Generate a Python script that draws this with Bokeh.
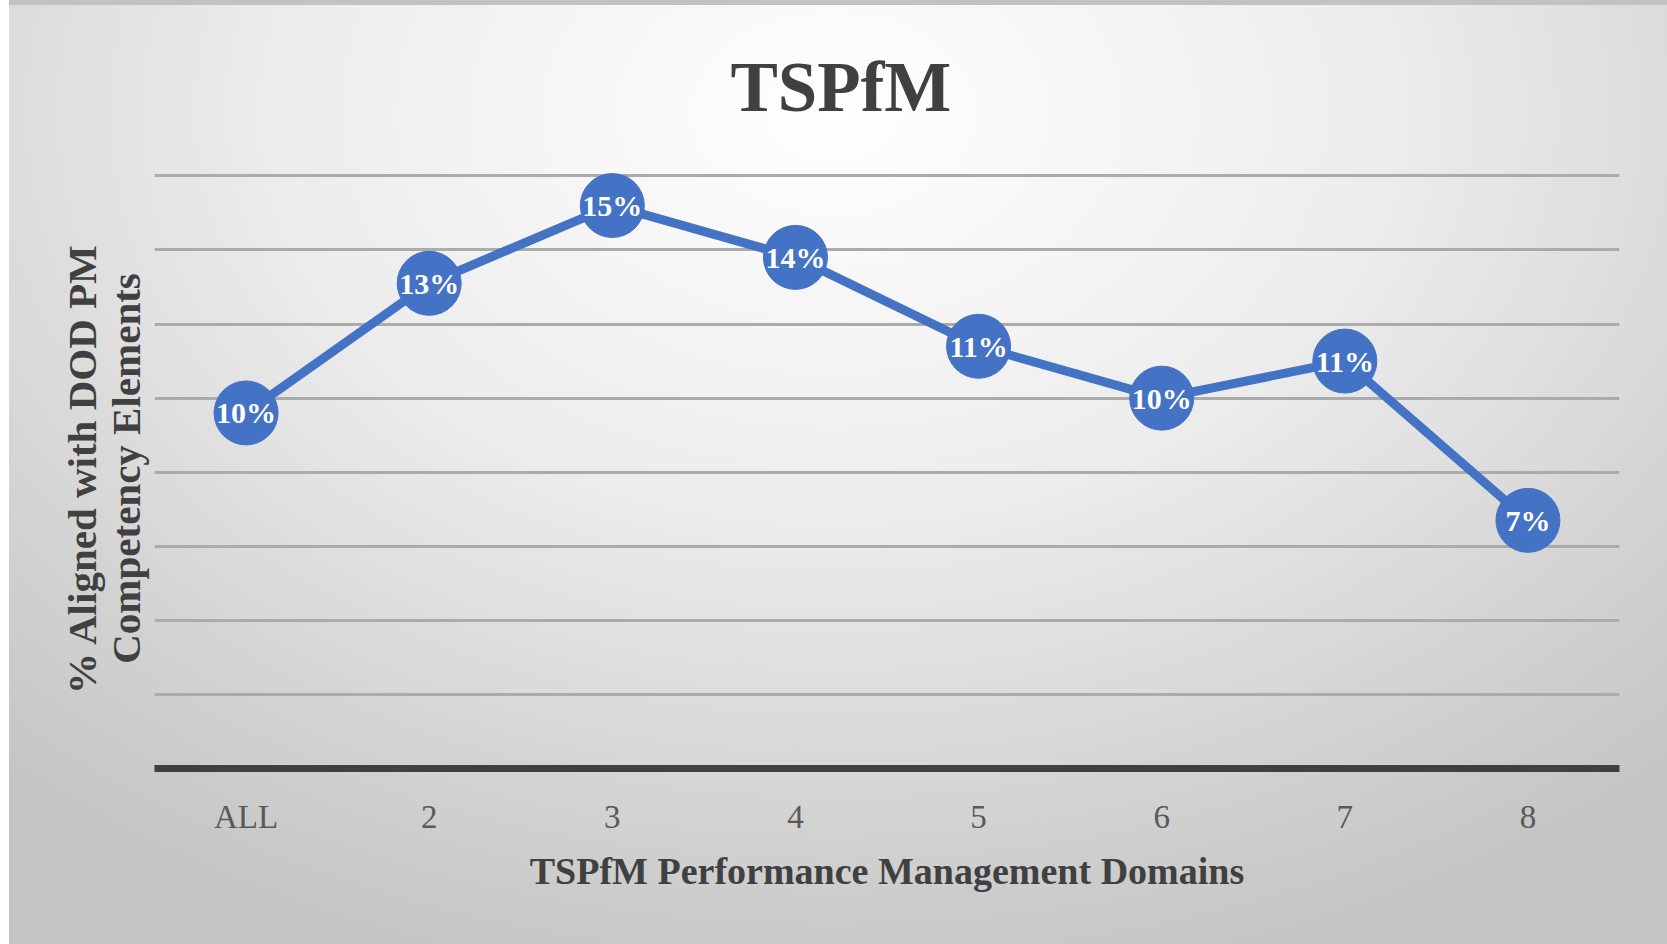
from bokeh.plotting import figure
from bokeh.models import FactorRange, Range1d, FixedTicker, ColumnDataSource
from bokeh.core.properties import value
from bokeh.embed import file_html
from bokeh.resources import INLINE

# ---- data ----
categories = ["ALL", "2", "3", "4", "5", "6", "7", "8"]
aligned_pct = [9.6, 13.1, 15.2, 13.8, 11.4, 10.0, 11.0, 6.7]
point_labels = ["10%", "13%", "15%", "14%", "11%", "10%", "11%", "7%"]
grid_ticks = [2, 4, 6, 8, 10, 12, 14, 16]

title_text = "TSPfM"
x_title = "TSPfM Performance Management Domains"
y_title = "% Aligned with DOD PM\nCompetency Elements"

BLUE = "#4472C4"
SERIF = "Liberation Serif"

src = ColumnDataSource(dict(x=categories, y=aligned_pct, lab=point_labels))

p = figure(
    width=1667, height=944,
    x_range=FactorRange(*categories),
    y_range=Range1d(0, 16.2),
    output_backend="svg", toolbar_location=None,
    min_border_left=154, min_border_right=48,
    min_border_top=168, min_border_bottom=176,
)

p.styles = {
    "background": "linear-gradient(to right, #ffffff 9px, transparent 9px), "
                  "linear-gradient(#c2c2c2, #c2c2c2) top left / 100% 5px no-repeat, "
                  "radial-gradient(ellipse 75% 95% at 50% 12%, #ffffff 0%, #ececec 45%, #d2d2d2 80%, #c4c4c4 100%)"
}
p.border_fill_color = None
p.background_fill_color = None
p.outline_line_color = None

# title (centred on the whole chart rather than on the plot frame)
p.title.text = title_text
p.title.align = "left"
p.title.offset = 576
p.title.text_font = SERIF
p.title.text_font_style = "bold"
p.title.text_font_size = "71px"
p.title.text_color = "#404040"
p.title.standoff = 86

# grid
p.xgrid.grid_line_color = None
p.ygrid.ticker = FixedTicker(ticks=grid_ticks)
p.ygrid.grid_line_color = "#ababab"
p.ygrid.grid_line_width = 3

# x axis
xa = p.xaxis[0]
xa.axis_line_color = "#404040"
xa.axis_line_width = 7
xa.major_tick_line_color = None
xa.minor_tick_line_color = None
xa.major_label_text_font = SERIF
xa.major_label_text_font_size = "33px"
xa.major_label_text_color = "#595959"
xa.major_label_standoff = 24
xa.axis_label = x_title
xa.axis_label_text_font = SERIF
xa.axis_label_text_font_style = "bold"
xa.axis_label_text_font_size = "38px"
xa.axis_label_text_color = "#404040"
xa.axis_label_standoff = 12

# y axis (label only, no tick labels)
ya = p.yaxis[0]
ya.ticker = FixedTicker(ticks=[])
ya.axis_line_color = None
ya.major_tick_line_color = None
ya.minor_tick_line_color = None
ya.major_tick_out = 0
ya.major_label_standoff = 0
ya.axis_label = y_title
ya.axis_label_text_font = SERIF
ya.axis_label_text_font_style = "bold"
ya.axis_label_text_font_size = "41px"
ya.axis_label_text_line_height = 0.95
ya.axis_label_text_color = "#404040"
ya.axis_label_standoff = 6

# series
p.line("x", "y", source=src, line_color=BLUE, line_width=9)
p.scatter("x", "y", source=src, size=64, fill_color=BLUE, line_color=BLUE, line_width=1)
p.text("x", "y", text="lab", source=src, text_align="center", text_baseline="middle",
       text_color="white", text_font=value(SERIF), text_font_style="bold",
       text_font_size="30px")

open("out.html", "w").write(file_html(p, INLINE))
